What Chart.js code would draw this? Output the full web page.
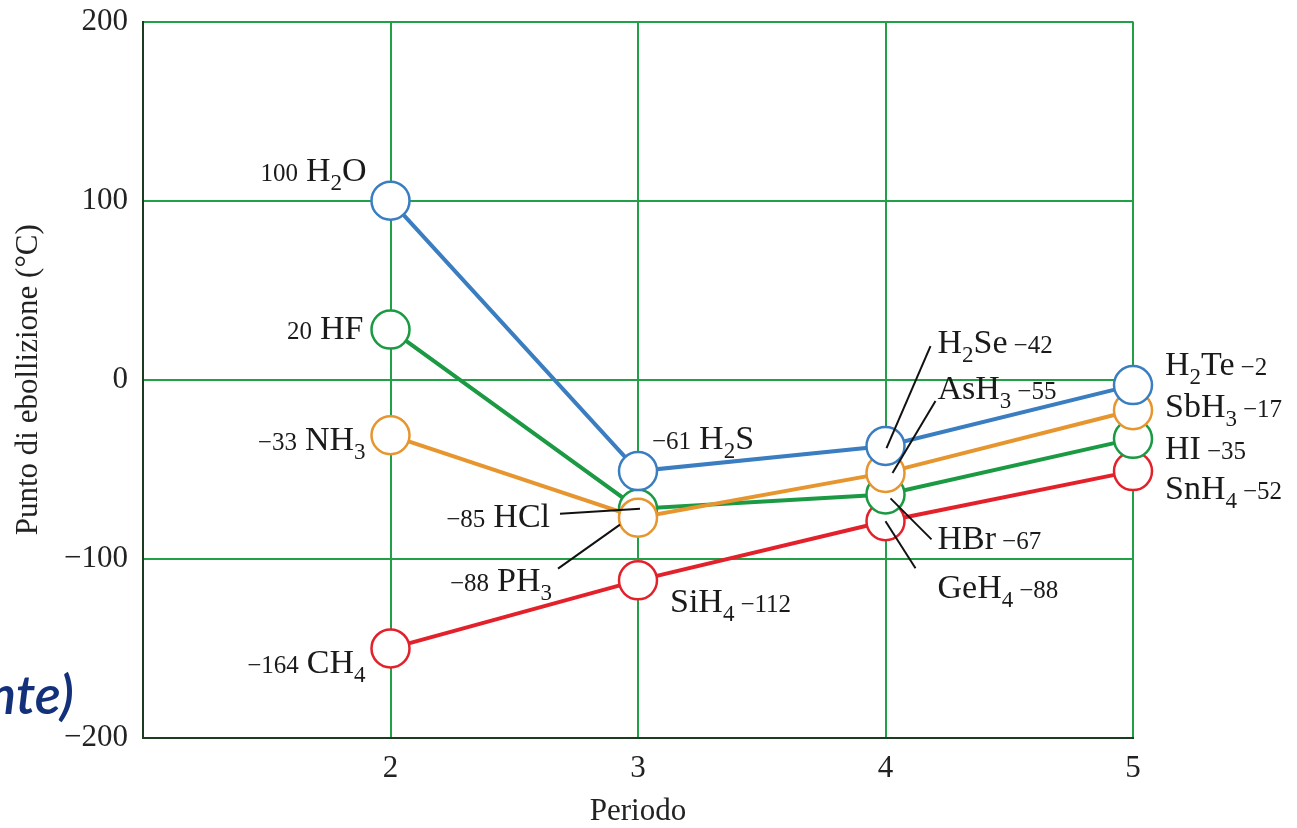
<!DOCTYPE html>
<html><head><meta charset="utf-8">
<script src="https://cdn.jsdelivr.net/npm/chart.js@4.4.1/dist/chart.umd.min.js"></script>
<style>
html,body{margin:0;padding:0;background:#fff;}
#wrap{position:relative;width:1297px;height:828px;overflow:hidden;}
#c{position:absolute;left:0;top:0;width:1297px;height:828px;}
#note{position:absolute;right:1223px;top:667px;font:italic 600 54px Lato,"Open Sans",sans-serif;line-height:1;color:#13307a;white-space:nowrap;}
</style></head><body>
<div id="wrap"><canvas id="c" width="1297" height="828"></canvas><div id="note">nte)</div></div>
<script>
// ---- data ----
const periods = [2, 3, 4, 5];
const yTicks = [-200, -100, 0, 100, 200];
// plotted boiling points (°C)
const group16 = [100, -51, -37, -3];   // H2O, H2S, H2Se, H2Te
const group15 = [-31, -77, -52, -17];  // NH3, PH3, AsH3, SbH3
const group17 = [28, -72, -64, -33];   // HF, HCl, HBr, HI
const group14 = [-150, -112, -79, -51];// CH4, SiH4, GeH4, SnH4
// label texts
const formulas16 = ['H_2O', 'H_2S', 'H_2Se', 'H_2Te'];
const formulas15 = ['NH_3', 'PH_3', 'AsH_3', 'SbH_3'];
const formulas17 = ['HF', 'HCl', 'HBr', 'HI'];
const formulas14 = ['CH_4', 'SiH_4', 'GeH_4', 'SnH_4'];
const values16 = ['100', '\u221261', '\u221242', '\u22122'];
const values15 = ['\u221233', '\u221288', '\u221255', '\u221217'];
const values17 = ['20', '\u221285', '\u221267', '\u221235'];
const values14 = ['\u2212164', '\u2212112', '\u221288', '\u221252'];
const xTitle = 'Periodo';
const yTitle = 'Punto di ebollizione (\u00B0C)';

// ---- styling / layout ----
const C_BLUE = '#3a7dc1', C_ORANGE = '#e6952f', C_GREEN = '#1b9a43', C_RED = '#e3212b';
const GRID = '#22a046', BORDER = '#1d3b20';
const SERIF = '"Liberation Serif", "DejaVu Serif", serif';

const seriesText = [
  {formulas: formulas16, values: values16},
  {formulas: formulas15, values: values15},
  {formulas: formulas17, values: values17},
  {formulas: formulas14, values: values14}
];
// label placement: dataset index, point index, offset from point (px), alignment, leader line offsets
const labelSpecs = [
  {ds:0,i:0,dx:-24,dy:-20,align:'right',valueFirst:true},
  {ds:0,i:1,dx:14,dy:-22,align:'left',valueFirst:true},
  {ds:0,i:2,dx:52,dy:-93,align:'left',lead:[45,-100,1,2]},
  {ds:0,i:3,dx:32,dy:-10,align:'left'},
  {ds:1,i:0,dx:-25,dy:15,align:'right',valueFirst:true},
  {ds:1,i:1,dx:-86,dy:73,align:'right',valueFirst:true,lead:[-80,51,-18,7]},
  {ds:1,i:2,dx:52,dy:-74,align:'left',lead:[50,-72,7,0]},
  {ds:1,i:3,dx:32,dy:7,align:'left'},
  {ds:2,i:0,dx:-27,dy:9,align:'right',valueFirst:true},
  {ds:2,i:1,dx:-88,dy:18,align:'right',valueFirst:true,lead:[-78,5,2,0]},
  {ds:2,i:2,dx:52,dy:55,align:'left',lead:[5,4,46,45]},
  {ds:2,i:3,dx:32,dy:20,align:'left'},
  {ds:3,i:0,dx:-25,dy:25,align:'right',valueFirst:true},
  {ds:3,i:1,dx:32,dy:32,align:'left'},
  {ds:3,i:2,dx:52,dy:77,align:'left',lead:[0,0,30,47]},
  {ds:3,i:3,dx:32,dy:28,align:'left'}
];
const F_MAIN = 34, F_SUB = 23, F_NUM = 25, SUB_SHIFT = 9;

function parseFormula(s){
  const out=[]; let k=0;
  while(k<s.length){
    if(s[k]==='_'){ out.push({t:s[k+1],sub:true}); k+=2; }
    else { let j=k; while(j<s.length && s[j]!=='_') j++; out.push({t:s.slice(k,j),sub:false}); k=j; }
  }
  return out;
}

const labelPlugin = {
  id:'hydrideLabels',
  afterDatasetsDraw(chart){
    const ctx = chart.ctx;
    ctx.save();
    labelSpecs.forEach(s=>{
      const pt = chart.getDatasetMeta(s.ds).data[s.i];
      const px = pt.x, py = pt.y;
      if(s.lead){
        ctx.beginPath();
        ctx.strokeStyle='#111'; ctx.lineWidth=2;
        ctx.moveTo(px+s.lead[0], py+s.lead[1]);
        ctx.lineTo(px+s.lead[2], py+s.lead[3]);
        ctx.stroke();
      }
      const txt = seriesText[s.ds];
      const segs = [];
      const fsegs = parseFormula(txt.formulas[s.i]).map(p=>({t:p.t,size:p.sub?F_SUB:F_MAIN,shift:p.sub?SUB_SHIFT:0}));
      const vseg = {t:txt.values[s.i],size:F_NUM,shift:0};
      const gap = {t:'',size:F_NUM,shift:0,gap:s.valueFirst?8:6};
      if(s.valueFirst){ segs.push(vseg,gap,...fsegs); } else { segs.push(...fsegs,gap,vseg); }
      let total=0;
      segs.forEach(g=>{
        if(g.gap){ g.w=g.gap; } else { ctx.font = g.size+'px '+SERIF; g.w = ctx.measureText(g.t).width; }
        total+=g.w;
      });
      let x = s.align==='right' ? px+s.dx-total : px+s.dx;
      const base = py+s.dy;
      ctx.fillStyle='#1a1a1a'; ctx.textBaseline='alphabetic'; ctx.textAlign='left';
      segs.forEach(g=>{
        if(!g.gap){ ctx.font = g.size+'px '+SERIF; ctx.fillText(g.t, x, base+g.shift); }
        x+=g.w;
      });
    });
    ctx.restore();
  }
};

function mk(label, vals, color){
  return {
    label, data: periods.map((p,k)=>({x:p,y:vals[k]})),
    borderColor:color, borderWidth:4, backgroundColor:'#fff',
    pointRadius:19, pointBorderWidth:2.5, pointBackgroundColor:'#fff', pointBorderColor:color,
    pointHoverRadius:19, tension:0, clip:false
  };
}

const fmt = v => (v<0 ? '\u2212'+Math.abs(v) : String(v));

new Chart(document.getElementById('c'), {
  type:'line',
  data:{ datasets:[
    mk('Gruppo 16', group16, C_BLUE),
    mk('Gruppo 15', group15, C_ORANGE),
    mk('Gruppo 17', group17, C_GREEN),
    mk('Gruppo 14', group14, C_RED)
  ]},
  options:{
    responsive:false, animation:false, devicePixelRatio:1, events:[],
    layout:{padding:{left:0,right:164,top:0,bottom:0}},
    plugins:{legend:{display:false},tooltip:{enabled:false}},
    scales:{
      x:{type:'linear',min:1,max:5,
        afterFit(s){ s.height=90; s.paddingLeft=0; s.paddingRight=0; },
        afterBuildTicks(s){ s.ticks = [1,...periods].map(v=>({value:v})); },
        ticks:{stepSize:1,padding:12,color:'#222',font:{family:SERIF,size:31},callback:v=>(periods.includes(v)?String(v):'')},
        grid:{color:GRID,lineWidth:2,drawTicks:false},
        border:{color:BORDER,width:2},
        title:{display:true,text:xTitle,color:'#222',font:{family:SERIF,size:31},padding:{top:0,bottom:-2}}
      },
      y:{min:-200,max:200,
        afterFit(s){ s.width=143; s.paddingTop=0; s.paddingBottom=0; },
        afterBuildTicks(s){ s.ticks = yTicks.map(v=>({value:v})); },
        ticks:{padding:15,color:'#222',font:{family:SERIF,size:31},callback:v=>fmt(v)},
        grid:{color:GRID,lineWidth:2,drawTicks:false},
        border:{color:BORDER,width:2},
        title:{display:true,text:yTitle,color:'#222',font:{family:SERIF,size:31},padding:{top:10,bottom:0}}
      }
    }
  },
  plugins:[labelPlugin]
});
</script>
